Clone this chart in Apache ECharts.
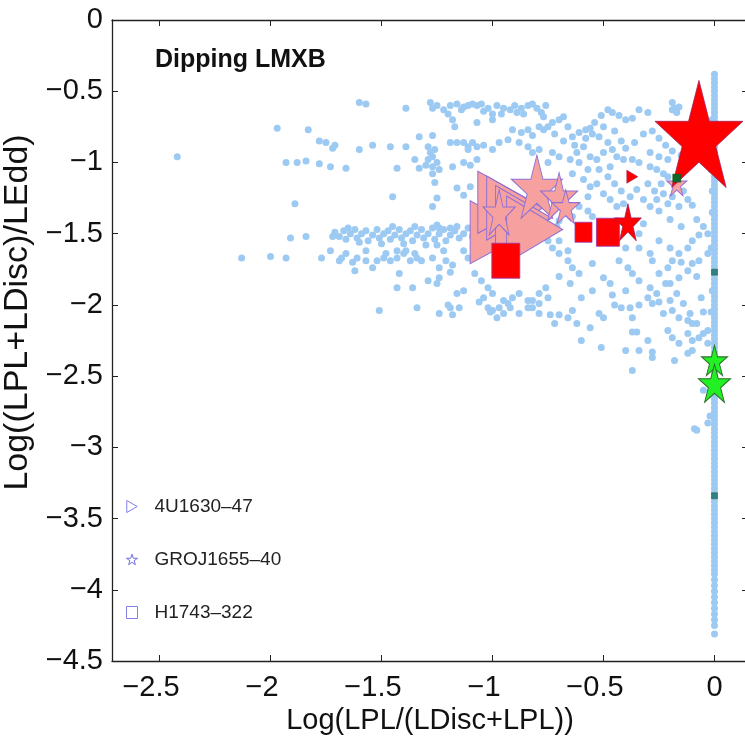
<!DOCTYPE html>
<html><head><meta charset="utf-8">
<script src="https://cdn.jsdelivr.net/npm/echarts@6/dist/echarts.min.js"></script>
<style>html,body{margin:0;padding:0;background:#fff;}#chart{width:745px;height:739px;}</style>
</head><body><div id="chart"></div>
<script>
// ---------- DATA ----------
const xTickValues = [-2.5, -2, -1.5, -1, -0.5, 0];
const yTickValues = [0, -0.5, -1, -1.5, -2, -2.5, -3, -3.5, -4, -4.5];
const seriesNames = ['4U1630–47', 'GROJ1655–40', 'H1743–322'];

// background simulation points (light blue)
const dipPoints = [
[-2.42,-0.96],
[-1.97,-0.76],[-1.83,-0.77],[-1.78,-0.85],[-1.75,-0.86],[-1.72,-0.90],[-1.71,-0.88],
[-1.93,-1.00],[-1.88,-1.00],[-1.84,-0.99],[-1.78,-1.01],[-1.73,-1.03],[-1.66,-1.04],
[-1.89,-1.29],[-1.91,-1.53],[-1.84,-1.52],[-1.72,-1.52],
[-2.13,-1.67],[-2.00,-1.66],[-1.93,-1.67],[-1.77,-1.67],[-1.73,-1.62],[-1.69,-1.69],
[-1.60,-0.58],[-1.57,-0.59],[-1.39,-0.62],
[-1.60,-0.91],[-1.54,-0.88],[-1.46,-0.89],[-1.39,-0.89],
[-1.43,-1.04],[-1.35,-0.98],[-1.33,-1.04],[-1.30,-1.02],[-1.45,-1.24],
[-1.28,-0.58],[-1.27,-0.62],[-1.22,-0.63],[-1.19,-0.60],[-1.16,-0.59],[-1.14,-0.63],[-1.11,-0.60],[-1.09,-0.59],[-1.07,-0.60],[-1.05,-0.59],[-1.02,-0.62],[-0.98,-0.60],[-0.95,-0.62],[-0.92,-0.63],[-0.89,-0.65],[-0.87,-0.62],[-0.84,-0.60],[-0.82,-0.59],[-0.78,-0.65],
[-1.25,-0.60],[-1.20,-0.66],[-1.13,-0.61],[-1.04,-0.64],[-1.00,-0.66],[-0.96,-0.66],[-0.90,-0.60],[-0.86,-0.66],[-0.80,-0.62],[-0.76,-0.60],
[-1.18,-0.70],[-1.17,-0.75],[-1.07,-0.72],[-1.00,-0.70],[-0.91,-0.77],[-0.87,-0.79],[-0.84,-0.77],[-0.82,-0.81],[-0.77,-0.77],
[-1.33,-0.82],[-1.27,-0.81],
[-1.29,-0.89],[-1.28,-0.93],[-1.26,-0.91],[-1.27,-0.96],[-1.29,-0.98],[-1.25,-1.00],[-1.27,-1.03],[-1.24,-1.05],
[-1.19,-0.86],[-1.16,-0.86],[-1.13,-0.86],[-1.11,-0.89],[-1.09,-0.86],[-1.07,-0.89],[-1.04,-0.88],[-1.00,-0.91],[-0.97,-0.86],[-0.93,-0.84],
[-0.88,-0.86],[-0.84,-0.89],[-0.82,-0.93],[-0.79,-0.91],
[-1.18,-1.03],[-1.13,-1.00],[-1.10,-1.02],[-1.07,-0.98],[-1.27,-1.08],[-1.11,-0.91],
[-1.16,-1.18],[-1.26,-1.14],[-1.25,-1.25],[-1.27,-1.31],[-1.13,-1.23],[-1.10,-1.17],
[-1.71,-1.49],[-1.69,-1.52],[-1.67,-1.48],[-1.66,-1.54],[-1.64,-1.50],[-1.62,-1.47],[-1.61,-1.53],[-1.59,-1.50],[-1.57,-1.48],[-1.56,-1.55],[-1.54,-1.51],[-1.52,-1.47],[-1.51,-1.53],[-1.49,-1.50],[-1.47,-1.48],[-1.46,-1.54],[-1.44,-1.51],[-1.42,-1.47],[-1.41,-1.53],[-1.39,-1.50],[-1.37,-1.48],[-1.36,-1.55],[-1.34,-1.51],[-1.32,-1.47],[-1.31,-1.53],[-1.29,-1.50],[-1.27,-1.46],[-1.26,-1.54],[-1.24,-1.50],[-1.22,-1.47],[-1.21,-1.55],[-1.19,-1.51],[-1.17,-1.48],[-1.15,-1.53],[-1.13,-1.50],[-1.11,-1.46],[-1.09,-1.52],[-1.07,-1.49],
[-1.60,-1.56],[-1.50,-1.57],[-1.40,-1.57],[-1.30,-1.58],[-1.65,-1.46],[-1.45,-1.45],[-1.35,-1.45],[-1.25,-1.44],
[-1.68,-1.67],[-1.63,-1.70],[-1.62,-1.76],[-1.57,-1.69],[-1.54,-1.74],[-1.49,-1.67],[-1.46,-1.69],[-1.43,-1.67],[-1.40,-1.64],[-1.37,-1.69],[-1.35,-1.64],[-1.32,-1.69],
[-1.66,-1.64],[-1.61,-1.67],[-1.57,-1.62],[-1.52,-1.69],[-1.48,-1.64],[-1.43,-1.62],[-1.39,-1.62],[-1.34,-1.67],
[-1.42,-1.78],
[-1.25,-1.58],[-1.22,-1.62],[-1.27,-1.67],[-1.21,-1.69],[-1.24,-1.74],[-1.19,-1.77],[-1.13,-1.62],[-1.11,-1.67],
[-1.24,-1.46],[-1.19,-1.46],[-1.16,-1.45],
[-1.43,-1.88],[-1.36,-1.88],[-1.29,-1.83],[-1.25,-1.85],[-1.24,-1.81],[-1.18,-1.72],
[-1.08,-1.78],[-1.05,-1.83],[-1.02,-1.88],
[-1.13,-1.90],[-1.16,-1.92],[-1.19,-2.02],[-1.24,-2.06],[-1.34,-2.02],[-1.51,-2.04],
[-1.04,-1.95],[-1.00,-1.92],[-0.95,-1.97],[-0.92,-2.02],[-0.91,-1.95],[-0.88,-1.92],[-0.84,-1.97],[-0.82,-2.02],[-0.79,-1.92],[-0.76,-1.88],
[-1.01,-2.05],[-0.98,-2.09],[-0.95,-2.06],[-0.88,-2.06],[-0.79,-2.06],
[-1.20,-2.00],[-1.18,-2.07],[-1.15,-2.02],[-1.06,-1.98],[-1.02,-2.02],[-1.00,-2.04],[-0.97,-2.02],[-0.93,-1.99],[-0.84,-2.02],[-0.82,-1.97],[-0.79,-1.99],[-0.75,-1.95],[-0.74,-2.07],[-0.72,-2.13],[-0.70,-2.07],[-0.66,-2.09],[-0.64,-2.04],[-0.62,-2.13],[-0.56,-2.16],[-0.52,-2.06],[-0.50,-2.09],[-0.46,-1.93],[-0.42,-2.02],[-0.38,-2.02],[-0.37,-2.09],[-0.34,-2.00],[-0.28,-1.99],[-0.25,-1.98],[-0.23,-2.06],[-0.20,-1.97],[-0.19,-2.04],[-0.16,-2.09],[-0.12,-2.11],[-0.10,-2.13],[-0.21,-2.18],[-0.19,-2.23],[-0.16,-2.27],[-0.12,-2.20],[-0.10,-2.25],[-0.07,-2.23],[-0.03,-2.18],
[-0.60,-2.25],[-0.51,-2.30],[-0.40,-2.32],[-0.37,-2.19],[-0.35,-2.19],[-0.34,-2.32],[-0.30,-2.25],[-0.28,-2.33],[-0.28,-2.37],[-0.37,-2.46],[-0.18,-2.39],[-0.12,-2.34],[-0.10,-2.32],
[-0.09,-2.87],[-0.03,-2.83],[-0.05,-2.60],[-0.02,-2.78],[-0.08,-2.88],
[-0.19,-0.58],[-0.18,-0.62],[-0.17,-0.65],[-0.19,-0.63],[-0.16,-0.61],
[-0.34,-0.63],[-0.30,-0.65],[-0.37,-0.69],[-0.40,-0.70],[-0.43,-0.67],[-0.46,-0.65],[-0.48,-0.63],[-0.51,-0.67],[-0.54,-0.72],[-0.56,-0.76],[-0.58,-0.77],[-0.61,-0.79],[-0.64,-0.82],[-0.66,-0.75],[-0.68,-0.68],[-0.70,-0.70],[-0.73,-0.72],[-0.75,-0.75],[-0.79,-0.75],
[-0.77,-0.68],[-0.72,-0.80],[-0.68,-0.85],[-0.63,-0.88],[-0.58,-0.83],[-0.55,-0.80],[-0.50,-0.75],[-0.45,-0.78],[-0.42,-0.85],[-0.40,-0.90],[-0.36,-0.86],[-0.32,-0.80],[-0.28,-0.78],[-0.25,-0.83],[-0.22,-0.88],[-0.19,-0.92],[-0.15,-0.95],[-0.13,-1.00],
[-0.52,-0.82],[-0.48,-0.86],[-0.46,-0.91],[-0.44,-0.96],[-0.41,-0.98],[-0.37,-0.98],[-0.34,-1.00],[-0.29,-1.03],[-0.26,-1.05],[-0.23,-1.08],[-0.21,-1.10],[-0.29,-0.93],[-0.25,-0.96],[-0.21,-0.98],
[-0.59,-0.89],[-0.62,-0.93],[-0.56,-0.96],[-0.53,-0.98],[-0.50,-0.93],[-0.47,-1.03],[-0.57,-1.05],[-0.61,-1.00],[-0.65,-0.98],[-0.70,-0.96],[-0.73,-0.93],[-0.75,-1.00],
[-0.64,-1.08],[-0.59,-1.12],[-0.56,-1.17],[-0.53,-1.15],[-0.50,-1.22],[-0.47,-1.26],[-0.44,-1.31],[-0.41,-1.29],[-0.38,-1.24],[-0.35,-1.19],[-0.32,-1.26],[-0.29,-1.31],[-0.26,-1.26],[-0.23,-1.22],[-0.21,-1.29],[-0.25,-1.34],[-0.16,-1.31],[-0.12,-1.26],[-0.19,-1.24],
[-0.52,-1.05],[-0.48,-1.10],[-0.45,-1.15],[-0.42,-1.20],[-0.30,-1.15],[-0.27,-1.20],[-0.24,-1.15],[-0.14,-1.20],[-0.10,-1.30],[-0.08,-1.40],[-0.05,-1.45],[-0.20,-1.40],[-0.15,-1.45],
[-0.61,-1.31],[-0.57,-1.34],[-0.55,-1.38],[-0.66,-1.34],[-0.70,-1.41],[-0.71,-1.45],[-0.70,-1.29],[-0.64,-1.38],[-0.57,-1.24],[-0.70,-1.55],[-0.66,-1.62],
[-0.32,-1.43],[-0.34,-1.50],[-0.28,-1.69],[-0.34,-1.60],[-0.29,-1.64],
[-0.75,-1.55],[-0.73,-1.60],[-0.70,-1.64],[-0.66,-1.69],[-0.64,-1.74],[-0.61,-1.78],[-0.55,-1.71],[-0.50,-1.81],[-0.47,-1.85],[-0.43,-1.69],[-0.39,-1.74],[-0.37,-1.78],[-0.34,-1.83],[-0.29,-1.88],[-0.26,-1.92],
[-0.45,-1.55],[-0.40,-1.60],[-0.25,-1.55],[-0.20,-1.60],[-0.22,-1.85],[-0.30,-1.95],[-0.40,-1.90],[-0.45,-2.00],[-0.55,-1.90],[-0.60,-1.95],[-0.65,-1.85],[-0.70,-1.80],[-0.15,-1.70],[-0.08,-1.80],[-0.06,-1.95],[-0.05,-2.05],
[-0.25,-1.78],[-0.21,-1.74],[-0.19,-1.69],[-0.16,-1.64],[-0.12,-1.60],[-0.10,-1.55],[-0.07,-1.51],[-0.03,-1.50],[-0.16,-1.81],[-0.12,-1.76],[-0.10,-1.71],[-0.07,-1.69],[-0.03,-1.64],
[-0.20,-1.85],[-0.17,-1.92],[-0.14,-1.99],[-0.11,-2.06],[-0.08,-2.13],[-0.05,-2.20],[-0.03,-2.27]
];

// vertical column of points at Log(LPL/(LDisc+LPL)) ~ 0
const columnPoints = [
[0,-0.38],[0,-0.41],[0,-0.44],[0,-0.47],[0,-0.50],[0,-0.53],[0,-0.56],[0,-0.59],[0,-0.62],[0,-0.65],[0,-0.68],[0,-0.71],[0,-0.74],[0,-0.77],[0,-0.80],[0,-0.83],[0,-0.86],[0,-0.89],[0,-0.92],[0,-0.95],[0,-0.98],[0,-1.01],[0,-1.04],[0,-1.07],[0,-1.10],[0,-1.13],[0,-1.16],[0,-1.19],[0,-1.22],[0,-1.25],[0,-1.28],[0,-1.31],[0,-1.34],[0,-1.37],[0,-1.40],[0,-1.43],[0,-1.46],[0,-1.49],[0,-1.52],[0,-1.55],[0,-1.58],[0,-1.61],[0,-1.64],[0,-1.67],[0,-1.70],[0,-1.73],[0,-1.76],[0,-1.79],[0,-1.82],[0,-1.85],[0,-1.88],[0,-1.91],[0,-1.94],[0,-1.97],[0,-2.00],[0,-2.03],[0,-2.06],[0,-2.09],[0,-2.12],[0,-2.15],[0,-2.18],[0,-2.21],[0,-2.24],[0,-2.27],[0,-2.30],[0,-2.33],[0,-2.36],[0,-2.39],[0,-2.42],[0,-2.45],[0,-2.48],[0,-2.51],[0,-2.54],[0,-2.57],[0,-2.60],[0,-2.63],[0,-2.66],[0,-2.69],[0,-2.72],[0,-2.75],[0,-2.78],[0,-2.81],[0,-2.84],[0,-2.87],[0,-2.90],[0,-2.93],[0,-2.96],[0,-2.99],[0,-3.02],[0,-3.05],[0,-3.08],[0,-3.11],[0,-3.14],[0,-3.17],[0,-3.20],[0,-3.23],[0,-3.26],[0,-3.29],[0,-3.32],[0,-3.35],[0,-3.38],[0,-3.41],[0,-3.44],[0,-3.47],[0,-3.50],[0,-3.53],[0,-3.56],[0,-3.59],[0,-3.62],[0,-3.65],[0,-3.68],[0,-3.71],[0,-3.74],[0,-3.77],[0,-3.80],[0,-3.83],[0,-3.86],[0,-3.89],[0,-3.93],[0,-3.97],[0,-4.01],[0,-4.05],[0,-4.09],[0,-4.13],[0,-4.17],[0,-4.21],[0,-4.25],[0,-4.31],
[-0.01,-0.70],[-0.015,-1.05],[-0.01,-1.35],[-0.015,-1.60],[-0.01,-1.90],[-0.015,-2.05],[-0.01,-1.20],[-0.01,-0.90]
];

// observed sources
const tri4U = [[-0.97,-1.49],[-0.94,-1.28],[-0.90,-1.32],[-0.86,-1.39],[-0.81,-1.47]];
const starGRO = [[-0.80,-1.17],[-0.70,-1.24],[-0.97,-1.35],[-0.67,-1.31],[-0.17,-1.15]];
const sqH1743 = [[-0.94,-1.69],[-0.59,-1.49],[-0.48,-1.49]];
const redStars = [[-0.07,-0.80],[-0.39,-1.42]];
const redTriangles = [[-0.37,-1.10]];
const greenStars = [[0,-2.39],[0,-2.55]];
const darkGreenSquares = [[-0.17,-1.11]];
const tealSquares = [[0,-1.77],[0,-3.34]];

// ---------- STYLE ----------
const tri4USizes = [[58,63],[56,62],[56,64],[56,65],[56,67]];
const starGROSizes = [[51,63],[37,48],[32,45],[28,34],[20,24]];
const sqH1743Sizes = [[28,35],[17,20],[23,28]];
const redStarSizes = [[88,107],[27,37]];
const greenStarSizes = [[26,30],[32,38]];

const STAR = 'path://M50,0L61.23,34.55L97.55,34.55L68.17,55.9L79.39,90.45L50,69.1L20.61,90.45L31.83,55.9L2.45,34.55L38.77,34.55Z';
const TRI = 'path://M0,0L87,50L0,100Z';
const FONT = 'Liberation Sans';
const pink = '#f6a0a0', edgePurple = '#8d6fd6';

function withSizes(vals, sizes) { return vals.map((v, i) => ({ value: v, symbolSize: sizes[i] })); }

const xMin = -2.714, xMax = 0.151;
const chart = echarts.init(document.getElementById('chart'), null, { renderer: 'canvas' });

const xLabelFmt = v => (v === 0 ? '0' : '{n|−' + Math.abs(v) + '}');
const yLabelFmt = v => (v === 0 ? '0' : '−' + Math.abs(v));

chart.setOption({
  animation: false,
  backgroundColor: '#fff',
  title: {
    text: 'Dipping LMXB', left: 155, top: 48, padding: 0,
    textStyle: { fontFamily: FONT, fontSize: 25, fontWeight: 'bold', color: '#111' }
  },
  legend: {
    orient: 'vertical', left: 121, top: 492, itemGap: 34,
    itemWidth: 11, itemHeight: 12, selectedMode: false,
    textStyle: { fontFamily: FONT, fontSize: 19, color: '#222', padding: [0, 0, 0, 12] },
    data: [
      { name: seriesNames[0], icon: TRI, itemStyle: { color: 'rgba(0,0,0,0)', borderColor: '#8080f0', borderWidth: 1 } },
      { name: seriesNames[1], icon: STAR, itemStyle: { color: 'rgba(0,0,0,0)', borderColor: '#6f6fe0', borderWidth: 1 } },
      { name: seriesNames[2], icon: 'rect', itemStyle: { color: 'rgba(0,0,0,0)', borderColor: '#8080e0', borderWidth: 1 } }
    ]
  },
  grid: { left: 112, top: 20, width: 636, height: 641, containLabel: false, outerBoundsMode: 'none' },
  xAxis: [
    {
      type: 'value', min: xMin, max: xMax, position: 'bottom',
      name: 'Log(LPL/(LDisc+LPL))', nameLocation: 'middle', nameGap: 44,
      nameTextStyle: { fontFamily: FONT, fontSize: 29, color: '#111' },
      axisLine: { show: true, onZero: false, lineStyle: { color: '#222', width: 1.3 } },
      axisTick: { show: true, inside: true, length: 6, customValues: xTickValues, lineStyle: { color: '#222' } },
      axisLabel: {
        customValues: xTickValues, formatter: xLabelFmt, margin: 12,
        fontFamily: FONT, fontSize: 29, color: '#111',
        rich: { n: { fontFamily: FONT, fontSize: 29, color: '#111', padding: [0, 17, 0, 0] } }
      },
      splitLine: { show: false }
    },
    {
      type: 'value', min: xMin, max: xMax, position: 'top',
      axisLine: { show: true, onZero: false, lineStyle: { color: '#222', width: 1.3 } },
      axisTick: { show: true, inside: true, length: 6, customValues: xTickValues, lineStyle: { color: '#222' } },
      axisLabel: { show: false }, splitLine: { show: false }
    }
  ],
  yAxis: [
    {
      type: 'value', min: -4.5, max: 0, interval: 0.5, position: 'left',
      name: 'Log((LPL+LDisc)/LEdd)', nameLocation: 'middle', nameGap: 62,
      nameTextStyle: { fontFamily: FONT, fontSize: 34, color: '#111', padding: [0, 0, 0, 56] },
      axisLine: { show: true, onZero: false, lineStyle: { color: '#222', width: 1.3 } },
      axisTick: { show: true, inside: true, length: 6, lineStyle: { color: '#222' } },
      axisLabel: { formatter: yLabelFmt, margin: 9, fontFamily: FONT, fontSize: 29, color: '#111' },
      splitLine: { show: false }
    },
    {
      type: 'value', min: -4.5, max: 0, interval: 0.5, position: 'right',
      axisLine: { show: true, onZero: false, lineStyle: { color: '#222', width: 1.3 } },
      axisTick: { show: true, inside: true, length: 6, lineStyle: { color: '#222' } },
      axisLabel: { show: false }, splitLine: { show: false }
    }
  ],
  series: [
    { name: 'simulation', type: 'scatter', data: dipPoints, symbol: 'circle', symbolSize: 7,
      itemStyle: { color: '#9dcaf2', opacity: 1 }, silent: true, z: 1 },
    { name: 'simulation column', type: 'scatter', data: columnPoints, symbol: 'circle', symbolSize: 7,
      itemStyle: { color: '#9dcaf2', opacity: 1 }, silent: true, z: 1 },
    { name: seriesNames[0], type: 'scatter', data: withSizes(tri4U, tri4USizes), symbol: TRI,
      itemStyle: { color: pink, borderColor: edgePurple, borderWidth: 1, opacity: 1 }, z: 3 },
    { name: seriesNames[1], type: 'scatter', data: withSizes(starGRO, starGROSizes), symbol: STAR,
      itemStyle: { color: pink, borderColor: edgePurple, borderWidth: 1, opacity: 1 }, z: 4 },
    { name: seriesNames[2], type: 'scatter', data: withSizes(sqH1743, sqH1743Sizes), symbol: 'rect',
      itemStyle: { color: '#ff0000', borderColor: '#9a3ab0', borderWidth: 0.8, opacity: 1 }, z: 5 },
    { name: 'GROJ red', type: 'scatter', data: withSizes(redStars, redStarSizes), symbol: STAR,
      itemStyle: { color: '#ff0000', borderColor: '#a0205a', borderWidth: 0.8, opacity: 1 }, z: 5 },
    { name: '4U red', type: 'scatter', data: redTriangles, symbol: TRI, symbolSize: [11, 13],
      itemStyle: { color: '#ff0000', borderColor: '#a0205a', borderWidth: 0.6, opacity: 1 }, z: 5 },
    { name: 'GROJ green', type: 'scatter', data: withSizes(greenStars, greenStarSizes), symbol: STAR,
      itemStyle: { color: '#22f022', borderColor: '#2c6e2c', borderWidth: 1, opacity: 1 }, z: 6 },
    { name: 'dark green', type: 'scatter', data: darkGreenSquares, symbol: 'rect', symbolSize: 8,
      itemStyle: { color: '#0a6a2a', borderColor: '#1a4a1a', borderWidth: 0.5, opacity: 1 }, z: 6 },
    { name: 'teal', type: 'scatter', data: tealSquares, symbol: 'rect', symbolSize: 6,
      itemStyle: { color: '#2f8282', borderColor: '#1f5a5a', borderWidth: 0.5, opacity: 1 }, z: 6 }
  ]
});
</script>
</body></html>
